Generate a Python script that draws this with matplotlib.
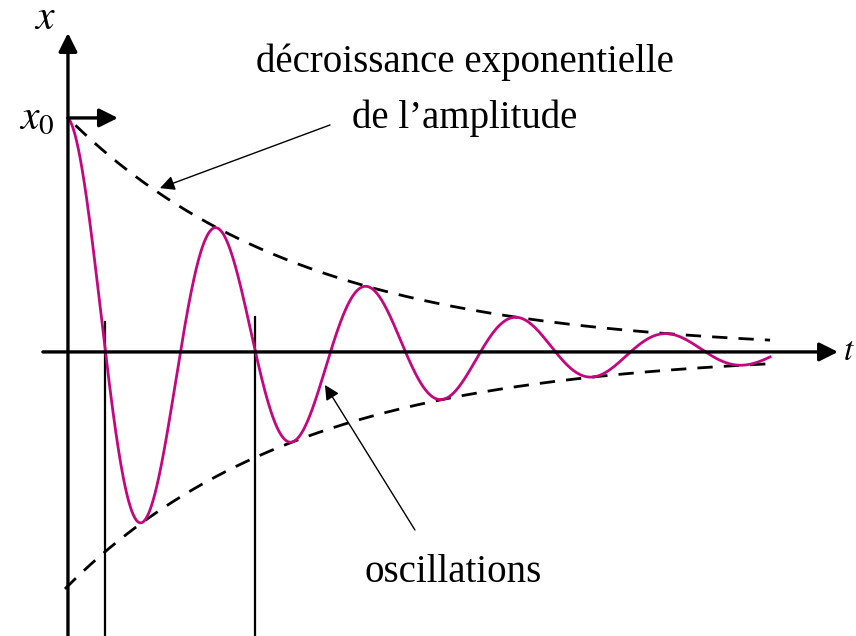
import numpy as np
import matplotlib
matplotlib.use("Agg")
import matplotlib.pyplot as plt

plt.rcParams['font.family'] = ['Liberation Serif', 'DejaVu Serif']
plt.rcParams['mathtext.fontset'] = 'stix'

# damped oscillation parameters (t in periods, x in units of x0)
x0 = 1.0
period = 1.0
tau = 1.567
t_end = 4.68
# times of the two vertical marker lines (zero crossings one period apart)
marker_times = [0.25, 1.25]
marker_tops = [0.128, 0.15]

labels_top = ["décroissance exponentielle", "de l’amplitude"]
label_bottom = "oscillations"

magenta = '#C4077E'

fig = plt.figure(figsize=(8.56, 6.36), dpi=100)
ax = fig.add_axes([0, 0, 1, 1])
ax.set_xlim(-0.453, 5.253)
ax.set_ylim(-1.214, 1.504)
ax.axis('off')

# curve
t = np.linspace(0, t_end, 1500)
x = x0 * np.exp(-t / tau) * np.cos(2 * np.pi * t / period)
ax.plot(t, x, color=magenta, lw=2.0, zorder=3)

# envelopes
dash = (5.5, 4)
tu = np.linspace(0.05, t_end, 400)
ax.plot(tu, x0 * np.exp(-tu / tau), color='black', lw=2.0, ls=(0, dash), zorder=2)
tl = np.linspace(-0.02, t_end, 400)
ax.plot(tl, -x0 * np.exp(-tl / tau), color='black', lw=2.0, ls=(0, dash), zorder=2)

# axes with arrows
arrow = dict(arrowstyle='-|>', color='black', lw=2.4, mutation_scale=28,
             shrinkA=0, shrinkB=0)
ax.annotate('', xy=(0, 1.363), xytext=(0, -1.214), arrowprops=arrow, zorder=4)
ax.annotate('', xy=(5.133, 0), xytext=(-0.167, 0), arrowprops=arrow, zorder=4)
ax.annotate('', xy=(0.333, x0), xytext=(0, x0), arrowprops=arrow, zorder=4)

# vertical marker lines
for tm, top in zip(marker_times, marker_tops):
    ax.plot([tm, tm], [-1.214, top], color='black', lw=1.6, zorder=1)

# annotation arrows
thin = dict(arrowstyle='-|>', color='black', lw=1.0, mutation_scale=22,
            shrinkA=0, shrinkB=0)
ax.annotate('', xy=(0.613, 0.70), xytext=(1.747, 0.97), arrowprops=thin)
ax.annotate('', xy=(1.713, -0.141), xytext=(2.313, -0.761), arrowprops=thin)

ax.text(2.647, 1.239, labels_top[0], fontsize=28, ha='center', va='center')
ax.text(2.647, 1.0, labels_top[1], fontsize=28, ha='center', va='center')
ax.text(2.567, -0.944, label_bottom, fontsize=28, ha='center', va='center')

ax.text(-0.153, 1.425, '$x$', fontsize=30, ha='center', va='center')
ax.text(-0.207, 1.0, '$x_0$', fontsize=30, ha='center', va='center')
ax.text(5.165, 0.0, '$t$', fontsize=24, ha='left', va='center')

fig.savefig('out.png', dpi=100)
